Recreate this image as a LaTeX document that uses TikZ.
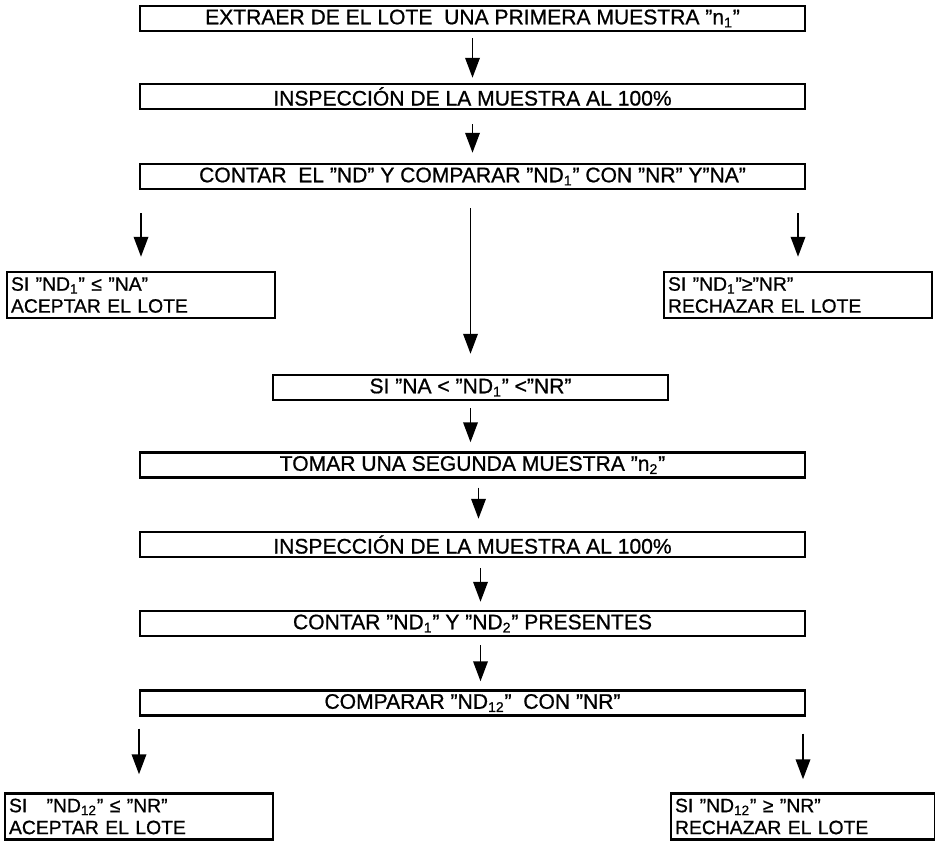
\documentclass[tikz,border=0pt]{standalone}
\usepackage{fontspec}
\setmainfont{Liberation Sans}[FakeBold=0.8]
\usetikzlibrary{arrows.meta}

\newcommand{\chico}[1]{\textsubscript{#1}}

\tikzset{
  caja/.style={draw, line width=1.4pt, minimum width=13.3cm, minimum height=0.5cm,
    inner sep=0pt, font=\fontsize{12}{14}\selectfont},
  lado/.style={draw, line width=1.4pt, minimum width=5.36cm, minimum height=0.92cm,
    text width=5.2cm, align=left, inner sep=2pt, font=\fontsize{11}{12.5}\selectfont},
  flecha/.style={line width=1.1pt, -{Triangle[length=0.4cm,width=0.29cm]}}
}

\begin{document}
\begin{tikzpicture}[x=0.02cm, y=-0.02cm]
    \useasboundingbox (0,0) rectangle (935,848);

    % primera muestra
    \node[caja] (b1) at (472.5,18.5) {EXTRAER DE EL LOTE\ \ UNA PRIMERA MUESTRA "n\chico{1}"};
    \node[caja] (b2) at (472.5,96.5) {INSPECCIÓN DE LA MUESTRA AL 100\%};
    \node[caja] (b3) at (472.5,176.5) {CONTAR\ \ EL "ND" Y COMPARAR "ND\chico{1}" CON "NR" Y"NA"};

    \node[lado] (acep1) at (141,295) {SI "ND\chico{1}" ≤ "NA"\\ACEPTAR EL LOTE};
    \node[lado] (rech1) at (798,295) {SI "ND\chico{1}"≥"NR"\\RECHAZAR EL LOTE};
    \node[caja, minimum width=7.9cm] (mid) at (470.5,387.5) {SI "NA < "ND\chico{1}" <"NR"};

    % segunda muestra
    \node[caja] (tomar) at (472.5,465) {TOMAR UNA SEGUNDA MUESTRA "n\chico{2}"};
    \node[caja] (insp2) at (472.5,544.5) {INSPECCIÓN DE LA MUESTRA AL 100\%};
    \node[caja] (cont2) at (472.5,623.5) {CONTAR "ND\chico{1}" Y "ND\chico{2}" PRESENTES};
    \node[caja] (comp) at (472.5,703) {COMPARAR "ND\chico{12}"\ \ CON "NR"};

    \node[lado] (acep2) at (139,816.5) {SI\ \ \ "ND\chico{12}" ≤ "NR"\\ACEPTAR EL LOTE};
    \node[lado, minimum width=5.28cm, text width=5.12cm] (rech2) at (803,816.5) {SI "ND\chico{12}" ≥ "NR"\\RECHAZAR EL LOTE};

    % flechas
    \draw[flecha, shorten <=0.12cm, shorten >=0.1cm] (b1) -- (b2);
    \draw[flecha, shorten <=0.28cm, shorten >=0.2cm] (b2) -- (b3);
    \draw[flecha, shorten <=0.36cm, shorten >=0.4cm] (mid.north |- b3.south) -- (mid.north);
    \draw[flecha, shorten <=0.46cm, shorten >=0.28cm] (acep1.north |- b3.south) -- (acep1.north);
    \draw[flecha, shorten <=0.46cm, shorten >=0.28cm] (rech1.north |- b3.south) -- (rech1.north);
    \draw[flecha, shorten <=0.14cm, shorten >=0.18cm] (mid.south) -- (mid.south |- tomar.north);
    \draw[flecha, shorten <=0.18cm, shorten >=0.24cm] ([xshift=0.12cm]tomar.south) -- ([xshift=0.12cm]insp2.north);
    \draw[flecha, shorten <=0.2cm, shorten >=0.16cm] ([xshift=0.16cm]insp2.south) -- ([xshift=0.16cm]cont2.north);
    \draw[flecha, shorten <=0.16cm, shorten >=0.16cm] ([xshift=0.16cm]cont2.south) -- ([xshift=0.16cm]comp.north);
    \draw[flecha, shorten <=0.24cm, shorten >=0.36cm] (acep2.north |- comp.south) -- (acep2.north);
    \draw[flecha, shorten <=0.34cm, shorten >=0.26cm] (rech2.north |- comp.south) -- (rech2.north);
\end{tikzpicture}
\end{document}
